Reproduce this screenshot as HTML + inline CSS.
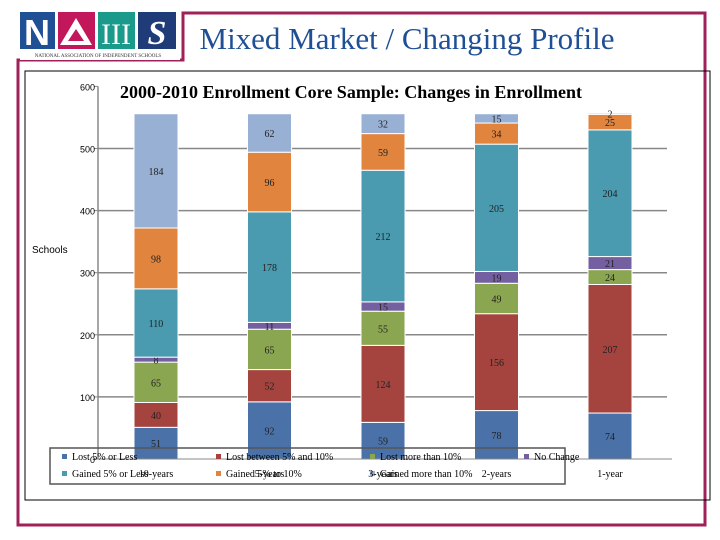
<!DOCTYPE html>
<html><head><meta charset="utf-8"><style>
body{margin:0;background:#fff;width:720px;height:540px;overflow:hidden;font-family:"Liberation Serif",serif}
</style></head><body>
<svg width="720" height="540" style="position:absolute;left:0;top:0">
<path d="M18 60 L18 525 L705 525 L705 13 L183 13 L183 60 Z" fill="none" stroke="#a0205a" stroke-width="3"/>
<rect x="20" y="12" width="160" height="48" fill="#fff"/>
<rect x="20" y="12" width="35" height="37" fill="#1f4f94"/>
<text x="37" y="45" font-size="36" font-weight="bold" fill="#fff" text-anchor="middle" font-family="Liberation Sans,sans-serif">N</text>
<rect x="58" y="12" width="37" height="37" fill="#c2185b"/>
<polygon points="76,18 92,45 60,45" fill="#fff"/><polygon points="76,29 84,41 68,41" fill="#c2185b"/>
<rect x="98" y="12" width="37" height="37" fill="#1a9a8a"/>
<text x="116" y="44" font-size="30" fill="#fff" text-anchor="middle">III</text>
<rect x="138" y="12" width="38" height="37" fill="#1f3c78"/>
<text x="157" y="44" font-size="34" font-weight="bold" fill="#fff" text-anchor="middle" font-style="italic">S</text>
<text x="98" y="57" font-size="5" fill="#333" text-anchor="middle">NATIONAL ASSOCIATION OF INDEPENDENT SCHOOLS</text>
<text x="407" y="49" font-size="31" fill="#1f4f94" text-anchor="middle">Mixed Market / Changing Profile</text>
<rect x="25" y="71" width="685" height="429" fill="none" stroke="#000" stroke-width="1"/>
<text x="351" y="98" font-size="18" font-weight="bold" text-anchor="middle">2000-2010 Enrollment Core Sample:  Changes in Enrollment</text>
<text x="32" y="253" font-size="10" font-family="Liberation Sans,sans-serif">Schools</text>
<g id="chart"></g>
</svg>
<script>
const categories=["10-years","5-years","3-years","2-years","1-year"];
const seriesNames=["Lost 5% or Less","Lost between 5% and 10%","Lost more than 10%","No Change","Gained 5% or Less","Gained 5% to 10%","Gained more than 10%"];
const lost5=[51,92,59,78,74];
const lost5to10=[40,52,124,156,207];
const lostMore10=[65,65,55,49,24];
const noChange=[8,11,15,19,21];
const gained5=[110,178,212,205,204];
const gained5to10=[98,96,59,34,25];
const gainedMore10=[184,62,32,15,2];
const yTicks=[0,100,200,300,400,500,600];
const series=[lost5,lost5to10,lostMore10,noChange,gained5,gained5to10,gainedMore10];
const colors=["#4a72a8","#a5443f","#8ba650","#7460a0","#4a9ab0","#e0843e","#98b0d4"];
const NS="http://www.w3.org/2000/svg";
const g=document.getElementById('chart');
const y0=459,pxPer=0.621,ax=98;
const y=v=>y0-v*pxPer;
const xc=i=>156+i*113.5;
const bw=44;
function mk(t,a,txt){const e=document.createElementNS(NS,t);for(const k in a)e.setAttribute(k,a[k]);if(txt!==undefined)e.textContent=txt;g.appendChild(e);return e;}
yTicks.forEach(t=>{
 if(t>0&&t<600){
  let gl=mk('line',{x1:ax,y1:y(t),x2:667,y2:y(t),stroke:'#888','stroke-width':1.5});
  
  
 }
 let l=mk('line',{x1:ax-4,y1:y(t),x2:ax,y2:y(t),stroke:'#888'});
 
 
 let tx=mk('text',{x:ax-3,y:y(t)+4,'font-size':9,'text-anchor':'end','font-family':'Liberation Sans,sans-serif'},String(t));
 
 
});
let e=mk('line',{x1:ax,y1:y(600),x2:ax,y2:y0,stroke:'#888','stroke-width':1.5});


categories.forEach((c,i)=>{
 let cum=0;
 series.forEach((s,k)=>{
  const v=s[i];
  const r=mk('rect',{x:xc(i)-bw/2,y:y(cum+v),width:bw,height:v*pxPer,fill:colors[k],stroke:'#fff','stroke-width':1});
  
  
  const t=mk('text',{x:xc(i),y:y(cum+v/2)+4,'font-size':10,'text-anchor':'middle',fill:'#222'},String(v));
  
  
  cum+=v;
 });
});
let lb=mk('rect',{x:50,y:448,width:515,height:36,fill:'none',stroke:'#555','stroke-width':1.5});


let xl=mk('line',{x1:ax,y1:y0,x2:672,y2:y0,stroke:'#888'});


seriesNames.forEach((n,k)=>{
 const col=k%4,row=Math.floor(k/4);
 const lx=[62,216,370,524][col],ly=row?476:459;
 const sq=mk('rect',{x:lx,y:ly-5,width:5,height:5,fill:colors[k]});
 
 
 const t=mk('text',{x:lx+10,y:ly+1,'font-size':10},n);
 
 
});
categories.forEach((c,i)=>{
 const t=mk('text',{x:xc(i),y:477,'font-size':10,'text-anchor':'middle'},c);
 
 
});
</script>
</body></html>
